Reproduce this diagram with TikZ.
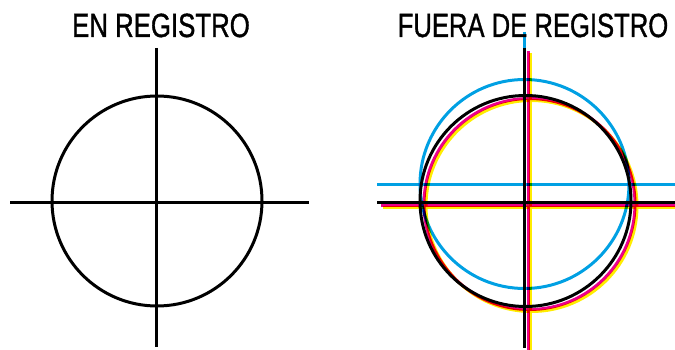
\documentclass[tikz,border=0pt]{standalone}
\usepackage{fontspec}
\setmainfont{Liberation Sans}
\newfontfamily\titlefont[FakeBold=1.2]{Liberation Sans}
\definecolor{pcyan}{RGB}{0,160,227}
\definecolor{pmag}{RGB}{236,0,140}
\definecolor{pyel}{RGB}{255,237,0}
\tikzset{
  mark line/.style={line width=3pt},
  title/.style={anchor=base, inner sep=0pt, font=\titlefont\fontsize{33.5}{36}\selectfont}
}
\begin{document}
\begin{tikzpicture}[x=1pt,y=-1pt]
\useasboundingbox (0,0) rectangle (675,350);
\clip (0,0) rectangle (675,350);
% titles
\node[title] (t1) at (161,37) {\scalebox{0.77}[1]{EN REGISTRO}};
\node[title] (t2) at (533,37) {\scalebox{0.765}[1]{FUERA DE REGISTRO}};
% left mark
\draw[mark line] (157,201) circle (105);
\draw[mark line] (156,48) -- (156,347);
\draw[mark line] (10,202) -- (309,202);
% right mark (CMYK out of register)
\begin{scope}[blend mode=multiply]
  \begin{scope}[shift={(6,5)}]
    \draw[mark line, pyel] (525.5,201) circle (105.5);
    \draw[mark line, pyel] (524,48) -- (524,350);
    \draw[mark line, pyel] (377,202) -- (675,202);
  \end{scope}
  \begin{scope}[shift={(4,3)}]
    \draw[mark line, pmag] (525.5,201) circle (105.5);
    \draw[mark line, pmag] (524,48) -- (524,350);
    \draw[mark line, pmag] (377,202) -- (675,202);
  \end{scope}
  \draw[mark line, pcyan] (524.5,184) circle (104.5);
  \draw[mark line, pcyan] (524,32) -- (524,332);
  \draw[mark line, pcyan] (377,185) -- (675,185);
  \draw[mark line] (525.5,201) circle (105.5);
  \draw[mark line] (524,48) -- (524,348);
  \draw[mark line] (377,202) -- (675,202);
\end{scope}
\end{tikzpicture}
\end{document}
